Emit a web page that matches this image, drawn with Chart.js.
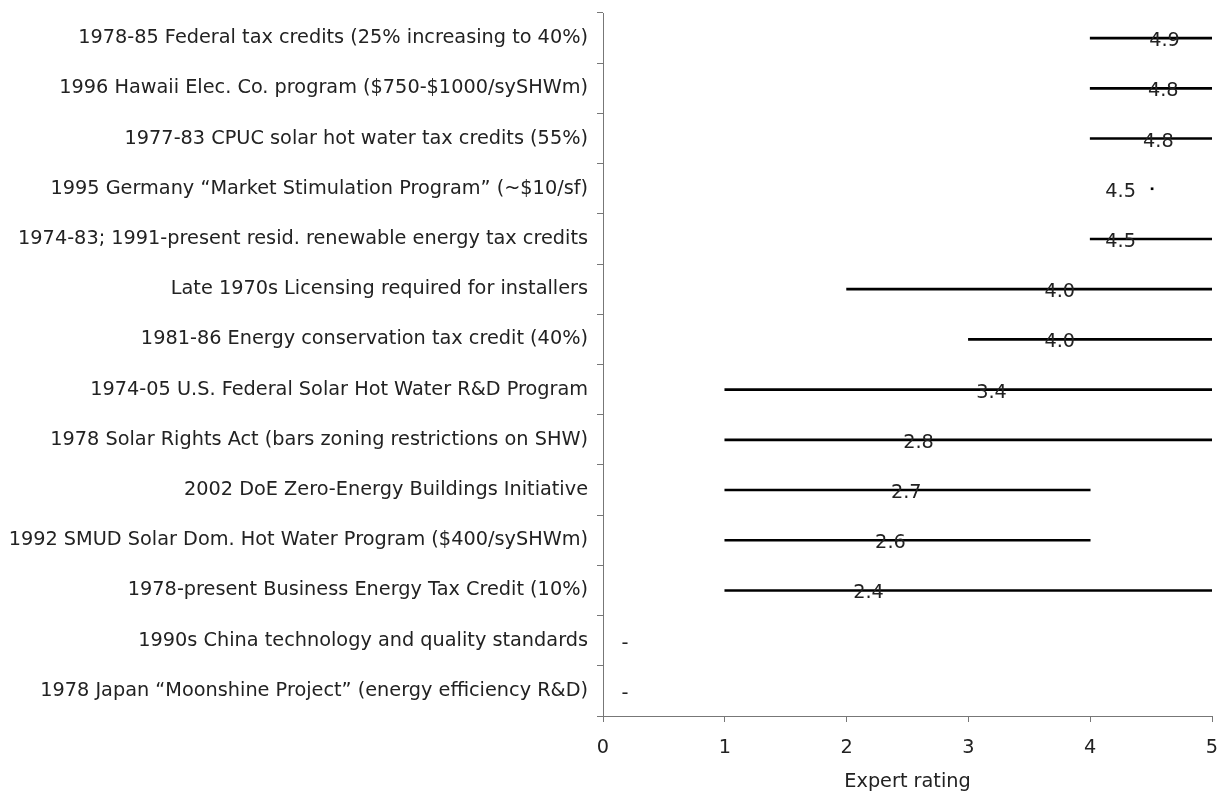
<!DOCTYPE html>
<html>
<head>
<meta charset="utf-8">
<script src="https://cdn.jsdelivr.net/npm/chart.js@4/dist/chart.umd.min.js"></script>
<style>
html,body{margin:0;padding:0;background:#fff;overflow:hidden;}
#wrap{width:1221px;height:792px;position:relative;}
canvas{display:block;}
</style>
</head>
<body>
<div id="wrap"><canvas id="c" width="1221" height="792"></canvas></div>
<script>
const categories = [
  "1978-85 Federal tax credits (25% increasing to 40%)",
  "1996 Hawaii Elec. Co. program ($750-$1000/sySHWm)",
  "1977-83 CPUC solar hot water tax credits (55%)",
  "1995 Germany \u201cMarket Stimulation Program\u201d (~$10/sf)",
  "1974-83; 1991-present resid. renewable energy tax credits",
  "Late 1970s Licensing required for installers",
  "1981-86 Energy conservation tax credit (40%)",
  "1974-05 U.S. Federal Solar Hot Water R&D Program",
  "1978 Solar Rights Act (bars zoning restrictions on SHW)",
  "2002 DoE Zero-Energy Buildings Initiative",
  "1992 SMUD Solar Dom. Hot Water Program ($400/sySHWm)",
  "1978-present Business Energy Tax Credit (10%)",
  "1990s China technology and quality standards",
  "1978 Japan \u201cMoonshine Project\u201d (energy efficiency R&D)"
];
const rangeMin = [4, 4, 4, 4.5, 4, 2, 3, 1, 1, 1, 1, 1, null, null];
const rangeMax = [5, 5, 5, 4.5, 5, 5, 5, 5, 5, 4, 4, 5, null, null];
const ratingText = ["4.9","4.8","4.8","4.5","4.5","4.0","4.0","3.4","2.8","2.7","2.6","2.4","-","-"];
const ratingLabelX = [4.61, 4.60, 4.56, 4.25, 4.25, 3.75, 3.75, 3.19, 2.59, 2.49, 2.36, 2.18, 0.18, 0.18];
const xTicks = [0, 1, 2, 3, 4, 5];

const FONT = "'DejaVu Sans', Verdana, sans-serif";
const FS = 19.3;

const labelPlugin = {
  id: 'ratingLabels',
  afterDatasetsDraw(chart) {
    const ctx = chart.ctx;
    const xs = chart.scales.x, ys = chart.scales.y;
    ctx.save();
    ctx.font = FS + "px " + FONT;
    ctx.fillStyle = "#222";
    ctx.textAlign = "center";
    ctx.textBaseline = "middle";
    ratingText.forEach((t, i) => {
      ctx.fillText(t, xs.getPixelForValue(ratingLabelX[i]), ys.getPixelForValue(i) + 3);
    });
    ctx.restore();
  }
};

new Chart(document.getElementById('c'), {
  type: 'bar',
  data: {
    labels: categories,
    datasets: [{
      data: rangeMin.map((v, i) => v === null ? null : [v, rangeMax[i]]),
      backgroundColor: '#000',
      borderWidth: 0,
      barThickness: 2,
      minBarLength: 2
    }]
  },
  options: {
    indexAxis: 'y',
    responsive: false,
    animation: false,
    devicePixelRatio: 1,
    layout: { padding: { top: 13, right: 9, left: 0, bottom: 0 } },
    plugins: { legend: { display: false }, tooltip: { enabled: false } },
    scales: {
      y: {
        type: 'category',
        offset: true,
        afterFit(s) { s.width = 603; s.paddingTop = 0; s.paddingBottom = 0; },
        grid: { drawOnChartArea: false, offset: true, tickLength: 6, color: '#777' },
        border: { color: '#777', width: 1 },
        ticks: { color: '#222', font: { family: FONT, size: FS }, padding: 9, autoSkip: false }
      },
      x: {
        type: 'linear',
        min: 0, max: 5,
        afterBuildTicks(s) { s.ticks = xTicks.map(v => ({ value: v })); },
        afterFit(s) { s.height = 76; s.paddingLeft = 0; s.paddingRight = 0; },
        grid: { drawOnChartArea: false, tickLength: 6, color: '#777' },
        border: { color: '#777', width: 1 },
        ticks: { color: '#222', font: { family: FONT, size: FS }, padding: 14 },
        title: { display: true, text: 'Expert rating', color: '#222', font: { family: FONT, size: FS, lineHeight: 1 }, padding: 0 }
      }
    }
  },
  plugins: [labelPlugin]
});
</script>
</body>
</html>
